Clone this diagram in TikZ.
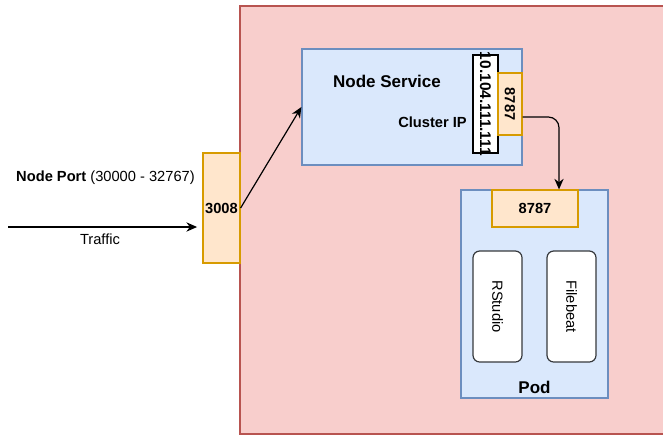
\documentclass[tikz,border=0pt]{standalone}
\usepackage{fontspec}
\setmainfont{Liberation Sans}
\usetikzlibrary{arrows.meta}

\definecolor{redfill}{HTML}{F8CECC}
\definecolor{redline}{HTML}{B85450}
\definecolor{bluefill}{HTML}{DAE8FC}
\definecolor{blueline}{HTML}{6C8EBF}
\definecolor{orangefill}{HTML}{FFE6CC}
\definecolor{orangeline}{HTML}{D79B00}
\definecolor{darkline}{HTML}{36393D}

\tikzset{
  box/.style={draw, rectangle, inner sep=0pt, line width=0.9pt},
  clusterbox/.style={box, fill=redfill, draw=redline},
  svcbox/.style={box, fill=bluefill, draw=blueline},
  portbox/.style={box, fill=orangefill, draw=orangeline, font=\bfseries\fontsize{11}{13}\selectfont},
  ctrbox/.style={box, fill=white, draw=darkline, rounded corners=5pt, font=\fontsize{11}{13}\selectfont},
  lbl/.style={inner sep=0pt, font=\fontsize{11}{13}\selectfont},
  flow/.style={line width=0.9pt, -{Stealth[length=8pt,width=7pt]}}
}

\begin{document}
\begin{tikzpicture}[x=0.75pt, y=-0.75pt]
\useasboundingbox (0,0) rectangle (663,436);
\clip (0,0) rectangle (663,436);
\node[clusterbox, minimum width=426*0.75pt, minimum height=428*0.75pt] (cluster) at (453,220) {}; % cluster
\node[svcbox, minimum width=220*0.75pt, minimum height=116*0.75pt] (svc) at (412,107) {}; % Node Service
\node[lbl, font=\bfseries\fontsize{12.75}{14}\selectfont] (svclabel) at (387,81) {Node Service};
\node[lbl, font=\bfseries\fontsize{11}{13}\selectfont, anchor=east] (iplabel) at (467,122) {Cluster IP};
\node[box, fill=white, draw=black, minimum width=25*0.75pt, minimum height=98*0.75pt] (ip) at (485.5,104) {}; % ip box
\node[lbl, rotate=-90, font=\bfseries\fontsize{11.6}{13}\selectfont] (iptext) at (ip) {10.104.111.111};
\node[portbox, minimum width=24*0.75pt, minimum height=62*0.75pt] (svcport) at (510,104) {\rotatebox{-90}{8787}};
\node[portbox, minimum width=37*0.75pt, minimum height=110*0.75pt] (nodeport) at (221.5,208) {3008};
\node[svcbox, minimum width=147*0.75pt, minimum height=208*0.75pt] (pod) at (534.5,294) {}; % Pod
\node[lbl, font=\bfseries\fontsize{12.75}{14}\selectfont] (podlabel) at (534.5,387) {Pod};
\node[portbox, minimum width=86*0.75pt, minimum height=37*0.75pt] (podport) at (535,208.5) {8787};
\node[ctrbox, minimum width=49*0.75pt, minimum height=111*0.75pt] (rstudio) at (497.5,306.5) {\rotatebox{-90}{RStudio}};
\node[ctrbox, minimum width=49*0.75pt, minimum height=111*0.75pt] (filebeat) at (571.5,306.5) {\rotatebox{-90}{Filebeat}};
\node[lbl] (portrange) at (105.5,178) {\textbf{Node Port} (30000 - 32767)};
\node[lbl] (traffic) at (100,239) {Traffic};
\coordinate (trafficin) at (8,227);
\draw[flow, shorten >=4pt] (trafficin) -- (nodeport.west |- trafficin); % Traffic
\draw[flow] (nodeport.east) -- (svc.west); % to service
\draw[flow, rounded corners=8pt] ([yshift=-9.75pt]svcport.east) -| ([xshift=18pt]podport.north); % to pod
\end{tikzpicture}
\end{document}
